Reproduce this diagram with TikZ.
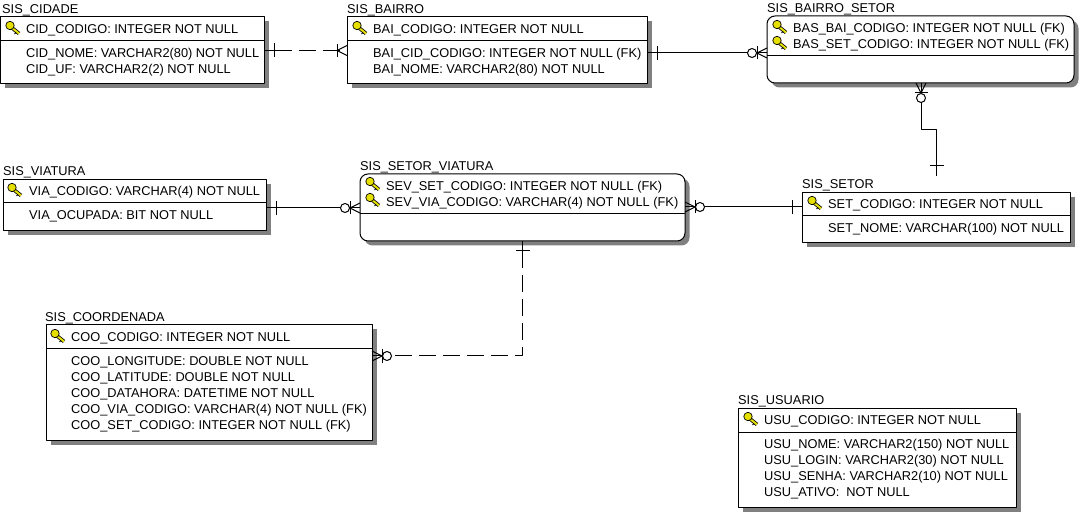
\documentclass[tikz,border=0pt]{standalone}
\usepackage{fontspec}
\setmainfont{Liberation Sans}
\usetikzlibrary{shadows}
\definecolor{keyyellow}{HTML}{E6E000}
\tikzset{
	tabbox/.style={draw, fill=white, line width=1pt, anchor=north west, inner sep=0pt, outer sep=0pt,
		drop shadow={shadow xshift=4.5pt, shadow yshift=-4.5pt, fill=black!50, opacity=1}},
	plainbox/.style 2 args={tabbox, sharp corners, minimum width=#1, minimum height=#2},
	roundbox/.style 2 args={tabbox, rounded corners=8pt, minimum width=#1, minimum height=#2},
	rowtext/.style={anchor=west, inner sep=0pt, text height=10pt, text depth=1pt},
	link/.style={line width=1pt},
	dashlink/.style={line width=1pt, dash pattern=on 17pt off 7pt, dash phase=14pt},
	pics/keyicon/.style={code={
		\draw[line width=3.6pt] (-2,-1) -- (6,5.5);
		\draw[keyyellow, line width=2pt] (-2,-1) -- (6,5.5);
		\draw[line width=.7pt, fill=keyyellow] (-3,-2.5) circle (4.2);
		\draw[line width=.8pt] (3,4.5) -- (1.5,6);
	}},
	pics/barmark/.style={code={
		\draw[link] (0,0) -- (10,0);
		\draw[link] (10,-7) -- (10,7);
	}},
	pics/crowbar/.style={code={
		\draw[link] (0,-5) -- (10,0) -- (0,5);
		\draw[link] (10,-6.5) -- (10,6.5);
	}},
	pics/crowring/.style={code={
		\draw[link] (0,-5) -- (10,0) -- (0,5);
		\draw[link] (10,-6.5) -- (10,6.5);
		\draw[link, fill=white] (15,0) circle (4.5);
	}}
}
\begin{document}
\begin{tikzpicture}[x=1pt, y=-1pt, font=\fontsize{12.8}{14}\selectfont, line join=round]
	\useasboundingbox (0,0) rectangle (1080,513);
	% tabelas
	\node[plainbox={264pt}{67pt}] (cidade) at (0.5,17) {};
	\node[plainbox={300pt}{67pt}] (bairro) at (347,17) {};
	\node[roundbox={307pt}{67pt}] (bairrosetor) at (767,16) {};
	\node[plainbox={263pt}{51pt}] (viatura) at (3,179.5) {};
	\node[roundbox={325pt}{67pt}] (setorviatura) at (360,174) {};
	\node[plainbox={268pt}{50pt}] (setor) at (802,193) {};
	\node[plainbox={326pt}{115pt}] (coordenada) at (46,325) {};
	\node[plainbox={278pt}{99pt}] (usuario) at (738,408) {};
	% titulos
	\node[rowtext] (tcidade) at (2,9) {SIS\_CIDADE};
	\node[rowtext] (tbairro) at (347,9) {SIS\_BAIRRO};
	\node[rowtext] (tbairrosetor) at (767,8) {SIS\_BAIRRO\_SETOR};
	\node[rowtext] (tviatura) at (3,171) {SIS\_VIATURA};
	\node[rowtext] (tsetorviatura) at (360,166) {SIS\_SETOR\_VIATURA};
	\node[rowtext] (tsetor) at (802,184) {SIS\_SETOR};
	\node[rowtext] (tcoordenada) at (45,317) {SIS\_COORDENADA};
	\node[rowtext] (tusuario) at (738,400) {SIS\_USUARIO};
	% divisoes
	\draw[link] (cidade.west |- 0,41) -- (cidade.east |- 0,41);
	\draw[link] (bairro.west |- 0,41) -- (bairro.east |- 0,41);
	\draw[link] (bairrosetor.west |- 0,56) -- (bairrosetor.east |- 0,56);
	\draw[link] (viatura.west |- 0,203) -- (viatura.east |- 0,203);
	\draw[link] (setorviatura.west |- 0,214) -- (setorviatura.east |- 0,214);
	\draw[link] (setor.west |- 0,216) -- (setor.east |- 0,216);
	\draw[link] (coordenada.west |- 0,349) -- (coordenada.east |- 0,349);
	\draw[link] (usuario.west |- 0,432) -- (usuario.east |- 0,432);
	% campos
	\foreach \y/\t [count=\i] in {29/{CID\_CODIGO: INTEGER NOT NULL}, 53/{CID\_NOME: VARCHAR2(80) NOT NULL}, 69/{CID\_UF: VARCHAR2(2) NOT NULL}}
		\node[rowtext] (cid\i) at (26,\y) {\t};
	\foreach \y/\t [count=\i] in {29/{BAI\_CODIGO: INTEGER NOT NULL}, 53/{BAI\_CID\_CODIGO: INTEGER NOT NULL (FK)}, 69/{BAI\_NOME: VARCHAR2(80) NOT NULL}}
		\node[rowtext] (bai\i) at (373,\y) {\t};
	\foreach \y/\t [count=\i] in {28.5/{BAS\_BAI\_CODIGO: INTEGER NOT NULL (FK)}, 44/{BAS\_SET\_CODIGO: INTEGER NOT NULL (FK)}}
		\node[rowtext] (bas\i) at (793,\y) {\t};
	\foreach \y/\t [count=\i] in {191/{VIA\_CODIGO: VARCHAR(4) NOT NULL}, 215/{VIA\_OCUPADA: BIT NOT NULL}}
		\node[rowtext] (via\i) at (29,\y) {\t};
	\foreach \y/\t [count=\i] in {186/{SEV\_SET\_CODIGO: INTEGER NOT NULL (FK)}, 202/{SEV\_VIA\_CODIGO: VARCHAR(4) NOT NULL (FK)}}
		\node[rowtext] (sev\i) at (386,\y) {\t};
	\foreach \y/\t [count=\i] in {204/{SET\_CODIGO: INTEGER NOT NULL}, 228/{SET\_NOME: VARCHAR(100) NOT NULL}}
		\node[rowtext] (set\i) at (828,\y) {\t};
	\foreach \y/\t [count=\i] in {337/{COO\_CODIGO: INTEGER NOT NULL}, 361/{COO\_LONGITUDE: DOUBLE NOT NULL}, 377/{COO\_LATITUDE: DOUBLE NOT NULL}, 393/{COO\_DATAHORA: DATETIME NOT NULL}, 409/{COO\_VIA\_CODIGO: VARCHAR(4) NOT NULL (FK)}, 425/{COO\_SET\_CODIGO: INTEGER NOT NULL (FK)}}
		\node[rowtext] (coo\i) at (71,\y) {\t};
	\foreach \y/\t [count=\i] in {420/{USU\_CODIGO: INTEGER NOT NULL}, 444/{USU\_NOME: VARCHAR2(150) NOT NULL}, 460/{USU\_LOGIN: VARCHAR2(30) NOT NULL}, 476/{USU\_SENHA: VARCHAR2(10) NOT NULL}, 492/{USU\_ATIVO:\ \ NOT NULL}}
		\node[rowtext] (usu\i) at (764,\y) {\t};
	% chaves
	\foreach \x/\y in {13/28, 360/28, 780/27, 780/43, 15/190, 373/184, 373/200, 815/203, 58/336, 751/419}
		\pic at (\x,\y) {keyicon};
	% ligacoes
	\coordinate (setortop) at (936.5,176);
	\coordinate (dobra) at (522.5,356);
	\draw[dashlink] (cidade.east) -- (bairro.west);
	\pic at (cidade.east) {barmark};
	\pic[rotate=180] at (bairro.west) {crowbar};
	\draw[link] (bairro.east |- 0,53) -- (bairrosetor.west |- 0,53);
	\pic at (bairro.east |- 0,53) {barmark};
	\pic[rotate=180] at (bairrosetor.west |- 0,53) {crowring};
	\draw[link] (bairrosetor.south -| 921,0) -- (921,130) -- (936.5,130) -- (setortop);
	\pic[rotate=-90] at (bairrosetor.south -| 921,0) {crowring};
	\draw[link] (929.5,166) -- (943.5,166);
	\draw[link] (viatura.east |- 0,208) -- (setorviatura.west |- 0,208);
	\pic at (viatura.east |- 0,208) {barmark};
	\pic[rotate=180] at (setorviatura.west |- 0,208) {crowring};
	\draw[link] (setorviatura.east |- 0,207) -- (setor.west |- 0,207);
	\pic at (setorviatura.east |- 0,207) {crowring};
	\pic[rotate=180] at (setor.west |- 0,207) {barmark};
	\draw[dashlink] (setorviatura.south -| dobra) -- (dobra) -- (coordenada.east |- dobra);
	\pic[rotate=-90] at (setorviatura.south -| dobra) {barmark};
	\pic at (coordenada.east |- dobra) {crowring};
\end{tikzpicture}
\end{document}
